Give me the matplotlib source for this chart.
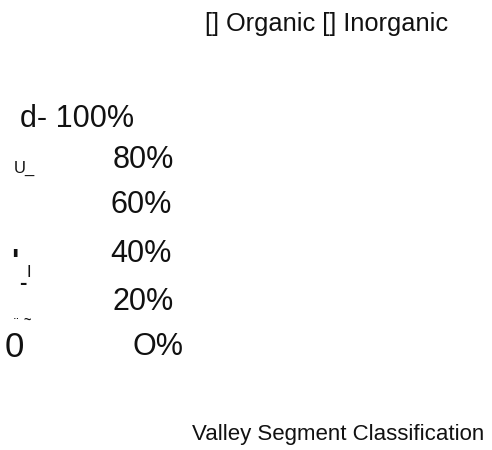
import matplotlib.pyplot as plt

# texts
legend_text = '[] Organic [] Inorganic'
y_tick_labels = ['d- 100%', '80%', '60%', '40%', '20%', 'O%']
y_label_bits = ['U_', "'", 'I', '-', '0', '\u00a8', '~']
x_title = 'Valley Segment Classification'

# layout in pixels (left x, baseline y)
tick_pos = [(20, 127), (113, 168), (110, 213), (110, 262), (113, 310), (133, 355)]
bit_pos = [(14, 173), (11.5, 271), (26.5, 277), (19.5, 289), (5, 357), (14, 328), (23, 324)]
bit_size = [12, 22, 12, 16, 25, 10, 9]
bit_bold = [False, True, False, True, False, False, True]

W, H = 492, 450
fig = plt.figure(figsize=(W / 100, H / 100), dpi=100)
fig.patch.set_facecolor('white')

font = ['Liberation Sans', 'DejaVu Sans']


def put(x, y, s, size, weight='normal'):
    fig.text(x / W, 1 - y / H, s, fontsize=size, family=font,
             fontweight=weight, ha='left', va='baseline', color='#111111')


put(205, 31, legend_text, 18.3)

for (x, y), s in zip(tick_pos, y_tick_labels):
    put(x, y, s, 22)

for (x, y), s, fs, b in zip(bit_pos, y_label_bits, bit_size, bit_bold):
    put(x, y, s, fs, 'bold' if b else 'normal')

put(192, 440, x_title, 16)

fig.savefig('out.png', dpi=100, facecolor='white')
